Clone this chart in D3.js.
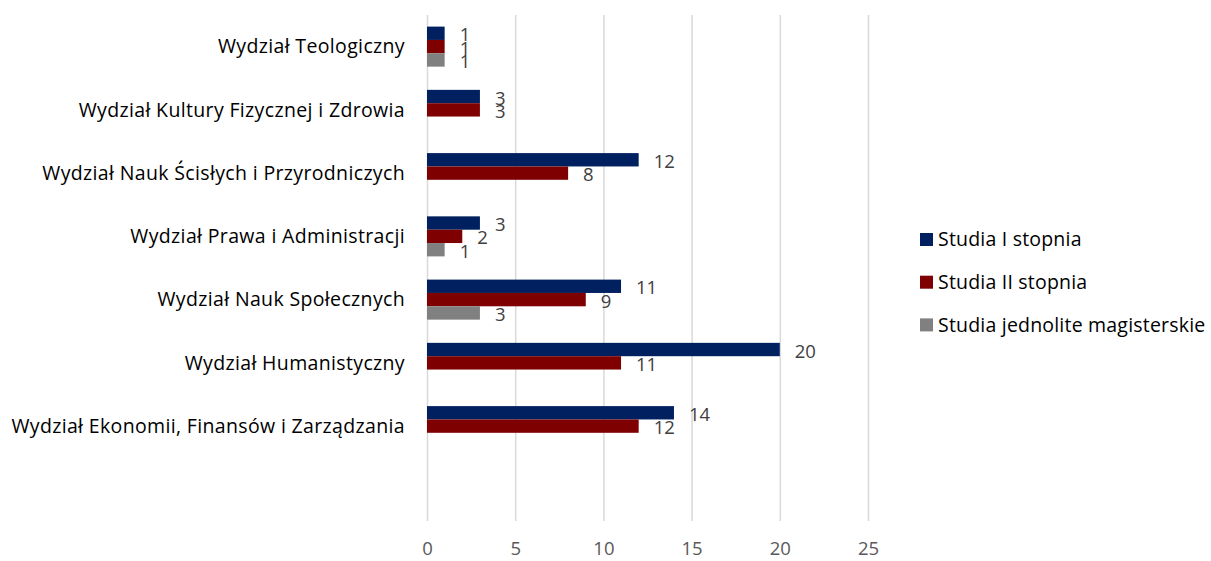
<!DOCTYPE html>
<html>
<head>
<meta charset="utf-8">
<script src="https://cdn.jsdelivr.net/npm/d3@7"></script>
<style>
  body { margin: 0; background: #fff; }
  text { font-family: "Open Sans", sans-serif; }
</style>
</head>
<body>
<div id="chart"></div>
<script>
const categories = [
  'Wydział Teologiczny',
  'Wydział Kultury Fizycznej i Zdrowia',
  'Wydział Nauk Ścisłych i Przyrodniczych',
  'Wydział Prawa i Administracji',
  'Wydział Nauk Społecznych',
  'Wydział Humanistyczny',
  'Wydział Ekonomii, Finansów i Zarządzania',
  ''
]
const seriesNames = ['Studia I stopnia', 'Studia II stopnia', 'Studia jednolite magisterskie']
const studiaI = [1, 3, 12, 3, 11, 20, 14, null]
const studiaII = [1, 3, 8, 2, 9, 11, 12, null]
const jednolite = [1, null, null, 1, 3, null, null, null]
const ticks = [0, 5, 10, 15, 20, 25]
const colors = ['#002060', '#7f0000', '#808080']

const fullWidth = 1211
const fullHeight = 561
const margin = { top: 15, right: 343, bottom: 40, left: 427 }
const width = fullWidth - margin.left - margin.right
const height = fullHeight - margin.top - margin.bottom

const svg = d3
  .select('#chart')
  .append('svg')
  .attr('width', fullWidth)
  .attr('height', fullHeight)
  .append('g')
  .attr('transform', 'translate(' + margin.left + ',' + margin.top + ')')

const xPositionScale = d3.scaleLinear().domain([0, 25]).range([0, width])

const yPositionScale = d3
  .scaleBand()
  .domain(categories)
  .range([0, height])
  .paddingInner(0.367)
  .paddingOuter(0.1835)

const barScale = d3
  .scaleBand()
  .domain(seriesNames)
  .range([0, yPositionScale.bandwidth()])

// gridlines + tick labels
const xAxis = d3
  .axisBottom(xPositionScale)
  .tickValues(ticks)
  .tickSize(-height)
  .tickPadding(21)

svg
  .append('g')
  .attr('class', 'x-axis')
  .attr('transform', 'translate(0,' + height + ')')
  .call(xAxis)
  .call(g => g.select('.domain').remove())
  .call(g => g.selectAll('line').attr('stroke', '#d9d9d9').attr('stroke-width', 1.5))
  .call(g =>
    g
      .selectAll('text')
      .attr('fill', '#595959')
      .attr('font-size', 18.5)
      .style('font-family', '"Open Sans", sans-serif')
  )

const allSeries = [studiaI, studiaII, jednolite]
const rows = []
allSeries.forEach((values, i) => {
  values.forEach((v, j) => {
    if (v !== null) {
      rows.push({ series: seriesNames[i], color: colors[i], category: categories[j], value: v })
    }
  })
})

svg
  .selectAll('.bar')
  .data(rows)
  .enter()
  .append('rect')
  .attr('class', 'bar')
  .attr('x', xPositionScale(0))
  .attr('y', d => yPositionScale(d.category) + barScale(d.series))
  .attr('width', d => xPositionScale(d.value) - xPositionScale(0))
  .attr('height', barScale.bandwidth())
  .attr('fill', d => d.color)

svg
  .selectAll('.value-label')
  .data(rows)
  .enter()
  .append('text')
  .attr('class', 'value-label')
  .attr('x', d => xPositionScale(d.value) + 15)
  .attr('y', d => yPositionScale(d.category) + barScale(d.series) + barScale.bandwidth() / 2 + 1.5)
  .attr('dy', '0.35em')
  .attr('font-size', 18.5)
  .attr('fill', '#404040')
  .text(d => d.value)

// category labels
svg
  .selectAll('.cat-label')
  .data(categories)
  .enter()
  .append('text')
  .attr('class', 'cat-label')
  .attr('x', -22)
  .attr('y', d => yPositionScale(d) + yPositionScale.bandwidth() / 2)
  .attr('dy', '0.35em')
  .attr('text-anchor', 'end')
  .attr('font-size', 19.5)
  .attr('letter-spacing', 0.35)
  .attr('fill', '#000')
  .text(d => d)

// legend
const legend = svg
  .append('g')
  .attr('transform', 'translate(' + (920 - margin.left) + ',' + (233 - margin.top) + ')')

const legendItems = legend
  .selectAll('g')
  .data(seriesNames)
  .enter()
  .append('g')
  .attr('transform', (d, i) => 'translate(0,' + i * 42.7 + ')')

legendItems
  .append('rect')
  .attr('width', 13)
  .attr('height', 13)
  .attr('fill', (d, i) => colors[i])

legendItems
  .append('text')
  .attr('x', 18)
  .attr('y', 6.5)
  .attr('dy', '0.35em')
  .attr('font-size', 19.5)
  .attr('letter-spacing', 0.2)
  .attr('fill', '#000')
  .text(d => d)
</script>
</body>
</html>
